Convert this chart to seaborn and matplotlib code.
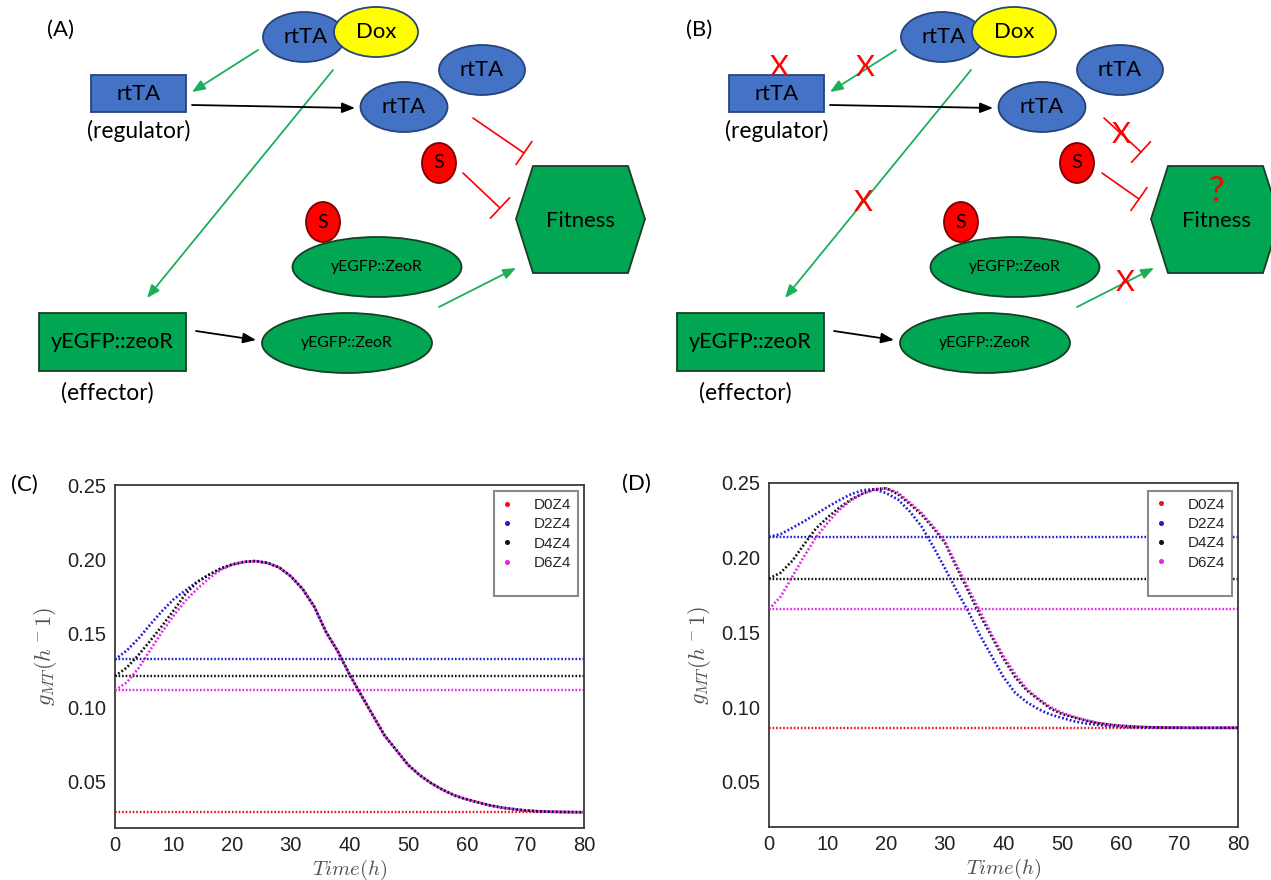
import matplotlib
matplotlib.use('Agg')
import matplotlib.pyplot as plt
from matplotlib import font_manager
from matplotlib.patches import Ellipse, Rectangle, Polygon
from matplotlib.lines import Line2D
from matplotlib.ticker import FormatStrFormatter
import numpy as np
import seaborn as sns

# ---------------- data ----------------
time_h = [0, 2, 4, 6, 8, 10, 12, 14, 16, 18, 20, 22, 24, 26, 28, 30, 32, 34, 36, 38, 40,
          42, 44, 46, 48, 50, 52, 54, 56, 58, 60, 62, 64, 66, 68, 70, 72, 74, 76, 78, 80]
series_labels = ['D0Z4', 'D2Z4', 'D4Z4', 'D6Z4']
series_colors = ['#e8141b', '#1d1dd6', '#111111', '#e424e4']

# constant (pre-induction) levels, panel C and D
c_levels = [0.0295, 0.1325, 0.1213, 0.1118]
d_levels = [0.0861, 0.2139, 0.1860, 0.1655]

# panel C dynamic curves
c_d2z4 = [0.1325, 0.1385, 0.1465, 0.1560, 0.1650, 0.1730, 0.1790, 0.1848, 0.1895, 0.1937, 0.1965,
          0.1982, 0.1988, 0.1975, 0.1945, 0.1885, 0.1800, 0.1680, 0.1510, 0.1380, 0.1225,
          0.1084, 0.0948, 0.0812, 0.0714, 0.0615, 0.0545, 0.0490, 0.0445, 0.0408, 0.0383,
          0.0362, 0.0342, 0.0327, 0.0317, 0.0308, 0.0303, 0.0300, 0.0298, 0.0297, 0.0296]
c_d4z4 = [0.1213, 0.1270, 0.1355, 0.1450, 0.1550, 0.1655, 0.1765, 0.1845, 0.1895, 0.1937, 0.1965,
          0.1982, 0.1988, 0.1975, 0.1945, 0.1885, 0.1800, 0.1680, 0.1510, 0.1380, 0.1225,
          0.1084, 0.0948, 0.0812, 0.0714, 0.0615, 0.0545, 0.0490, 0.0445, 0.0408, 0.0383,
          0.0362, 0.0342, 0.0327, 0.0317, 0.0308, 0.0303, 0.0300, 0.0298, 0.0297, 0.0296]
c_d6z4 = [0.1118, 0.1170, 0.1265, 0.1388, 0.1510, 0.1620, 0.1720, 0.1800, 0.1870, 0.1928, 0.1963,
          0.1982, 0.1988, 0.1975, 0.1945, 0.1885, 0.1800, 0.1680, 0.1510, 0.1380, 0.1225,
          0.1084, 0.0948, 0.0812, 0.0714, 0.0615, 0.0545, 0.0490, 0.0445, 0.0408, 0.0383,
          0.0362, 0.0342, 0.0327, 0.0317, 0.0308, 0.0303, 0.0300, 0.0298, 0.0297, 0.0296]

# panel D dynamic curves
d_d2z4 = [0.2139, 0.2158, 0.2200, 0.2244, 0.2292, 0.2340, 0.2385, 0.2425, 0.2452, 0.2458, 0.2432,
          0.2390, 0.2310, 0.2210, 0.2075, 0.1930, 0.1780, 0.1640, 0.1480, 0.1340, 0.1200,
          0.1095, 0.1032, 0.0985, 0.0950, 0.0927, 0.0905, 0.0890, 0.0881, 0.0872, 0.0867,
          0.0864, 0.0862, 0.0862, 0.0861, 0.0861, 0.0861, 0.0861, 0.0861, 0.0861, 0.0861]
d_d4z4 = [0.1860, 0.1900, 0.1980, 0.2090, 0.2195, 0.2270, 0.2335, 0.2390, 0.2430, 0.2458, 0.2465,
          0.2425, 0.2360, 0.2290, 0.2200, 0.2100, 0.1936, 0.1775, 0.1615, 0.1470, 0.1325,
          0.1200, 0.1110, 0.1050, 0.0990, 0.0953, 0.0930, 0.0910, 0.0893, 0.0882, 0.0875,
          0.0870, 0.0866, 0.0864, 0.0863, 0.0862, 0.0861, 0.0861, 0.0861, 0.0861, 0.0861]
d_d6z4 = [0.1655, 0.1740, 0.1875, 0.2010, 0.2135, 0.2235, 0.2320, 0.2385, 0.2429, 0.2455, 0.2465,
          0.2435, 0.2370, 0.2300, 0.2210, 0.2110, 0.1950, 0.1795, 0.1640, 0.1485, 0.1340,
          0.1220, 0.1120, 0.1055, 0.1000, 0.0962, 0.0935, 0.0913, 0.0895, 0.0883, 0.0876,
          0.0871, 0.0867, 0.0864, 0.0863, 0.0862, 0.0861, 0.0861, 0.0861, 0.0861, 0.0861]

x_ticks = [0, 10, 20, 30, 40, 50, 60, 70, 80]
y_ticks = [0.05, 0.10, 0.15, 0.20, 0.25]

# ---------------- style ----------------
sns.set_style('white')
plt.rcParams['mathtext.fontset'] = 'cm'
plt.rcParams['font.family'] = ['Liberation Sans', 'DejaVu Sans']
names = {f.name for f in font_manager.fontManager.ttflist}
NARROW = 'Liberation Sans Narrow' in names
DFONT = 'Liberation Sans Narrow' if NARROW else 'Lato'
K = 1.0 if NARROW else 0.84

fig = plt.figure(figsize=(12.71, 8.80), dpi=100)
fig.patch.set_facecolor('white')

# ---------------- diagrams (A) and (B) ----------------
dg = fig.add_axes([0, 0, 1, 1], zorder=0)
dg.set_xlim(0, 1271)
dg.set_ylim(880, 0)
dg.axis('off')

BLUE, BLUE_E = '#4472C4', '#26447a'
GREEN, GREEN_E = '#00A651', '#1a3d26'
RED, RED_E = '#FF0000', '#7a0000'
YEL = '#FFFF00'
ARROW_G = '#1DAE5C'


def txt(x, y, s, fs, color='black'):
    dg.text(x, y, s, fontsize=fs * K, family=DFONT, color=color, ha='center', va='center')


def ell(cx, cy, w, h, fc, ec, s=None, fs=18, tx=0):
    dg.add_patch(Ellipse((cx, cy), w, h, fc=fc, ec=ec, lw=1.3))
    if s:
        txt(cx + tx, cy, s, fs)


def box(x0, y0, x1, y1, fc, ec, s, fs):
    dg.add_patch(Rectangle((x0, y0), x1 - x0, y1 - y0, fc=fc, ec=ec, lw=1.3))
    txt((x0 + x1) / 2, (y0 + y1) / 2, s, fs)


def arrow(p0, p1, color):
    dg.annotate('', xy=p1, xytext=p0,
                arrowprops=dict(arrowstyle='-|>,head_length=0.55,head_width=0.22', color=color,
                                lw=1.3, shrinkA=0, shrinkB=0, mutation_scale=14))


def inhibit(p0, p1, half=14):
    ddx, ddy = p1[0] - p0[0], p1[1] - p0[1]
    n = np.hypot(ddx, ddy)
    px, py = -ddy / n * half, ddx / n * half
    dg.plot([p0[0], p1[0]], [p0[1], p1[1]], color=RED, lw=1.2)
    dg.plot([p1[0] - px, p1[0] + px], [p1[1] - py, p1[1] + py], color=RED, lw=1.2)


def panel(dx, hdx, label, inh, blocked):
    txt(61 + dx, 30, label, 19)
    arrow((258 + dx, 50), (192 + dx, 92), ARROW_G)
    arrow((333 + dx, 70), (147 + dx, 298), ARROW_G)
    arrow((192 + dx, 105), (355 + dx, 108), 'black')
    arrow((196 + dx, 331), (256 + dx, 340), 'black')
    arrow((439 + dx, 307), (516 + dx, 268), ARROW_G)
    for p0, p1 in inh:
        inhibit(p0, p1)
    # Dox complex
    ell(304 + dx, 37, 82, 50, BLUE, BLUE_E, 'rtTA', 19, tx=2)
    ell(376 + dx, 32, 84, 50, YEL, BLUE_E, 'Dox', 19)
    # regulator
    box(91 + dx, 75, 186 + dx, 112, BLUE, BLUE_E, 'rtTA', 19)
    txt(139 + dx, 131, '(regulator)', 19.5)
    ell(404 + dx, 107, 87, 50, BLUE, BLUE_E, 'rtTA', 19)
    ell(482 + dx, 70, 86, 50, BLUE, BLUE_E, 'rtTA', 19)
    # S
    ell(439 + dx, 163, 34, 40, RED, RED_E, 'S', 17)
    # fitness hexagon
    hx = [516, 533, 628, 645, 628, 533]
    hy = [219, 166, 166, 219, 273, 273]
    dg.add_patch(Polygon(list(zip([v + hdx for v in hx], hy)), closed=True, fc=GREEN, ec=GREEN_E, lw=1.3))
    txt(581 + hdx, 221, 'Fitness', 19)
    # effector side
    ell(323 + dx, 222, 34, 40, RED, RED_E, 'S', 17)
    ell(377 + dx, 267, 169, 60, GREEN, GREEN_E, 'yEGFP::ZeoR', 13.5)
    ell(347 + dx, 343, 170, 60, GREEN, GREEN_E, 'yEGFP::ZeoR', 13.5)
    box(39 + dx, 313, 186 + dx, 371, GREEN, GREEN_E, 'yEGFP::zeoR', 18.5)
    txt(107 + dx, 393, '(effector)', 19.5)
    if blocked:
        for (x, y) in blocked:
            txt(x, y, 'X', 25, color=RED)
        txt(581 + hdx, 191, '?', 30, color=RED)


panel(0, 0, '(A)', [((473, 118), (524, 153)), ((463, 173), (500, 208))], None)
panel(638, 635, '(B)', [((1104, 118), (1141, 152)), ((1102, 173), (1139, 199))],
      [(779, 68), (865, 68), (863, 203), (1121, 135), (1125, 283)])

# panel labels of the plots
txt(24, 485, '(C)', 19)
txt(636, 484, '(D)', 19)

# ---------------- plots (C) and (D) ----------------
axC = fig.add_axes([115 / 1271, 1 - 828 / 880, 469 / 1271, 343 / 880], zorder=2)
axD = fig.add_axes([769 / 1271, 1 - 827 / 880, 469 / 1271, 344 / 880], zorder=2)

DOT = (0, (0.7, 0.8))


def draw_plot(ax, levels, curves, ybottom, leg_xy):
    for col, lev in zip(series_colors, levels):
        ax.axhline(lev, color=col, lw=1.7, ls=DOT, zorder=2)
    for col, vals in curves:
        sns.lineplot(x=time_h, y=vals, color=col, lw=1.9, ls=DOT, ax=ax, legend=False, zorder=3)
    ax.set_xlim(0, 80)
    ax.set_ylim(ybottom, 0.25)
    ax.set_xticks(x_ticks)
    ax.set_yticks(y_ticks)
    ax.yaxis.set_major_formatter(FormatStrFormatter('%.2f'))
    ax.tick_params(labelsize=14.5, length=0, pad=6, colors='#222222')
    for s in ax.spines.values():
        s.set_visible(True)
        s.set_color('#3a3a3a')
        s.set_linewidth(1.3)
    ax.set_ylabel(r'$g_{MT}(h^-1)$', fontsize=16, color='#505050')
    ax.yaxis.set_label_coords(-0.12, 0.5)
    ax.set_xlabel(r'$Time(h)$', fontsize=15, color='#505050')
    ax.xaxis.set_label_coords(0.5, -0.087)
    handles = [Line2D([], [], marker='o', ms=2.6, ls='none', color=c) for c in series_colors]
    handles.append(Line2D([], [], ls='none'))
    leg = ax.legend(handles, series_labels + [''], loc='upper right', bbox_to_anchor=leg_xy,
                    borderaxespad=0, fontsize=11, frameon=True, fancybox=False, framealpha=1,
                    edgecolor='#8a8a8a', handlelength=0.8, handletextpad=1.35,
                    labelspacing=0.35, borderpad=0.45)
    leg.get_frame().set_linewidth(1.5)


draw_plot(axC, c_levels,
          [(series_colors[1], c_d2z4), (series_colors[2], c_d4z4), (series_colors[3], c_d6z4)],
          0.019, (0.987, 0.9825))
draw_plot(axD, d_levels,
          [(series_colors[1], d_d2z4), (series_colors[2], d_d4z4), (series_colors[3], d_d6z4)],
          0.0197, (0.987, 0.977))

fig.savefig('out.png', dpi=100, facecolor='white')
